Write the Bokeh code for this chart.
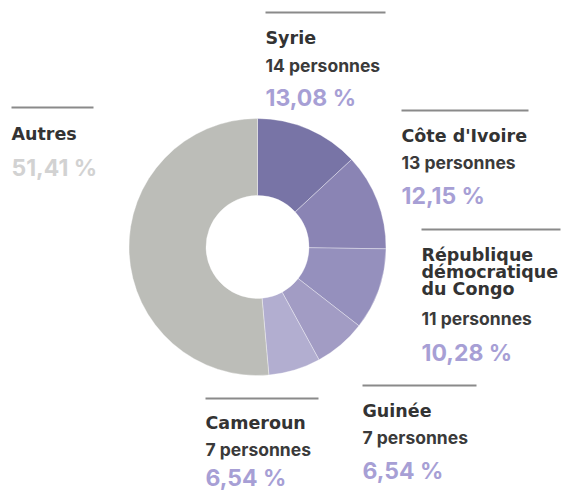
import math
from bokeh.plotting import figure
from bokeh.models import Range1d, ColumnDataSource
from bokeh.core.properties import value
from bokeh.embed import file_html
from bokeh.resources import INLINE

# ---- data ----
countries = ["Syrie", "Côte d'Ivoire", "République démocratique du Congo", "Guinée", "Cameroun", "Autres"]
persons = [14, 13, 11, 7, 7, None]
percents = [13.08, 12.15, 10.28, 6.54, 6.54, 51.41]

# ---- style ----
slice_colors = ["#7874a6", "#8a84b4", "#9590bd", "#a29cc4", "#b2aed0", "#bcbdb8"]
pct_colors = ["#a79fd5", "#a79fd5", "#a79fd5", "#a79fd5", "#a79fd5", "#d2d2d2"]
name_lines = [["Syrie"], ["Côte d'Ivoire"], ["République", "démocratique", "du Congo"],
              ["Guinée"], ["Cameroun"], ["Autres"]]
# x, rule end x, rule y, name baselines, count baseline, pct baseline (picture px)
layout = [
    (265, 385, 12, [37], 65, 97),
    (401, 528, 110, [135], 162, 195),
    (421, 560, 229, [254, 271, 288], 318, 352),
    (362, 476, 385, [410], 437, 470),
    (205, 318, 398, [422], 449, 477),
    (11, 93, 107, [133], None, 167),
]
CX, CY, R_OUT, R_IN = 257, 246.5, 128.5, 51.5

W, H = 563, 493
p = figure(width=W, height=H, output_backend="svg", toolbar_location=None,
           x_range=Range1d(0, W), y_range=Range1d(-H, 0),
           min_border=0, outline_line_color=None)
p.axis.visible = False
p.grid.visible = False
p.background_fill_color = "white"
p.border_fill_color = "white"

total = sum(percents)
starts, ends = [], []
acc = 0.0
for v in percents:
    starts.append(math.pi / 2 - acc / total * 2 * math.pi)
    acc += v
    ends.append(math.pi / 2 - acc / total * 2 * math.pi)

src = ColumnDataSource(dict(start=starts, end=ends, color=slice_colors))
p.annular_wedge(x=CX, y=-CY, inner_radius=R_IN, outer_radius=R_OUT,
                start_angle="start", end_angle="end", direction="clock",
                fill_color="color", line_color="white", line_width=0.5,
                line_alpha=0.7, source=src)

NAME_FONT = value("DejaVu Sans")
NUM_FONT = value("Inter")

for i, (x, xe, ry, nbs, cb, pb) in enumerate(layout):
    p.segment(x0=[x], y0=[-ry], x1=[xe], y1=[-ry], line_color="#8a8a8a", line_width=2)
    p.text(x=[x] * len(nbs), y=[-b for b in nbs], text=name_lines[i],
           text_font=NAME_FONT, text_font_style="bold", text_font_size="17.5px",
           text_color="#333333", text_baseline="alphabetic", text_align="left")
    if cb is not None and persons[i] is not None:
        p.text(x=[x], y=[-cb], text=[f"{persons[i]} personnes"],
               text_font=NUM_FONT, text_font_style="bold", text_font_size="17.5px",
               text_color="#3a3a3a", text_baseline="alphabetic", text_align="left")
    pct = f"{percents[i]:.2f} %".replace(".", ",")
    p.text(x=[x], y=[-pb], text=[pct],
           text_font=NUM_FONT, text_font_style="bold", text_font_size="23px",
           text_color=pct_colors[i], text_baseline="alphabetic", text_align="left")

open("out.html", "w").write(file_html(p, INLINE))
